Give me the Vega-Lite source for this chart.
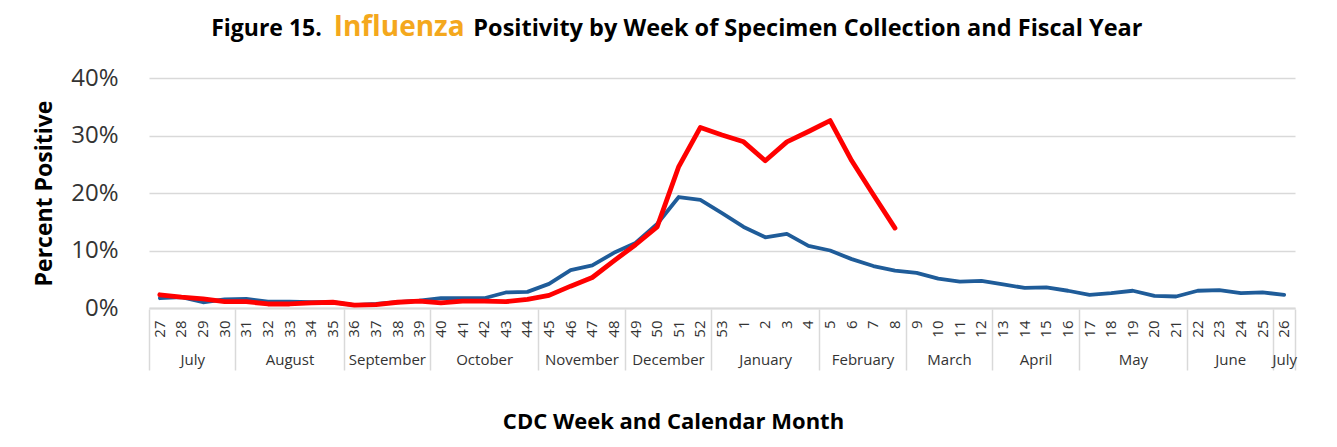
{
  "$schema": "https://vega.github.io/schema/vega-lite/v6.json",
  "background": "white",
  "autosize": {"type": "none"},
  "padding": {"left": 149, "top": 78, "right": 42, "bottom": 139},
  "config": {"font": "Open Sans", "view": {"stroke": null}},
  "datasets": {
    "flu": [
      {"week": "27", "season": "Previous year", "pct": 1.7},
      {"week": "28", "season": "Previous year", "pct": 1.9},
      {"week": "29", "season": "Previous year", "pct": 1.0},
      {"week": "30", "season": "Previous year", "pct": 1.5},
      {"week": "31", "season": "Previous year", "pct": 1.6},
      {"week": "32", "season": "Previous year", "pct": 1.1},
      {"week": "33", "season": "Previous year", "pct": 1.1},
      {"week": "34", "season": "Previous year", "pct": 1.0},
      {"week": "35", "season": "Previous year", "pct": 1.0},
      {"week": "36", "season": "Previous year", "pct": 0.5},
      {"week": "37", "season": "Previous year", "pct": 0.7},
      {"week": "38", "season": "Previous year", "pct": 1.0},
      {"week": "39", "season": "Previous year", "pct": 1.3},
      {"week": "40", "season": "Previous year", "pct": 1.7},
      {"week": "41", "season": "Previous year", "pct": 1.7},
      {"week": "42", "season": "Previous year", "pct": 1.7},
      {"week": "43", "season": "Previous year", "pct": 2.7},
      {"week": "44", "season": "Previous year", "pct": 2.8},
      {"week": "45", "season": "Previous year", "pct": 4.2},
      {"week": "46", "season": "Previous year", "pct": 6.6},
      {"week": "47", "season": "Previous year", "pct": 7.4},
      {"week": "48", "season": "Previous year", "pct": 9.6},
      {"week": "49", "season": "Previous year", "pct": 11.3},
      {"week": "50", "season": "Previous year", "pct": 14.6},
      {"week": "51", "season": "Previous year", "pct": 19.3},
      {"week": "52", "season": "Previous year", "pct": 18.8},
      {"week": "53", "season": "Previous year", "pct": 16.5},
      {"week": "1", "season": "Previous year", "pct": 14.1},
      {"week": "2", "season": "Previous year", "pct": 12.3},
      {"week": "3", "season": "Previous year", "pct": 12.9},
      {"week": "4", "season": "Previous year", "pct": 10.8},
      {"week": "5", "season": "Previous year", "pct": 10.0},
      {"week": "6", "season": "Previous year", "pct": 8.5},
      {"week": "7", "season": "Previous year", "pct": 7.3},
      {"week": "8", "season": "Previous year", "pct": 6.5},
      {"week": "9", "season": "Previous year", "pct": 6.1},
      {"week": "10", "season": "Previous year", "pct": 5.1},
      {"week": "11", "season": "Previous year", "pct": 4.6},
      {"week": "12", "season": "Previous year", "pct": 4.7},
      {"week": "13", "season": "Previous year", "pct": 4.1},
      {"week": "14", "season": "Previous year", "pct": 3.5},
      {"week": "15", "season": "Previous year", "pct": 3.6},
      {"week": "16", "season": "Previous year", "pct": 3.0},
      {"week": "17", "season": "Previous year", "pct": 2.3},
      {"week": "18", "season": "Previous year", "pct": 2.6},
      {"week": "19", "season": "Previous year", "pct": 3.0},
      {"week": "20", "season": "Previous year", "pct": 2.1},
      {"week": "21", "season": "Previous year", "pct": 2.0},
      {"week": "22", "season": "Previous year", "pct": 3.0},
      {"week": "23", "season": "Previous year", "pct": 3.1},
      {"week": "24", "season": "Previous year", "pct": 2.6},
      {"week": "25", "season": "Previous year", "pct": 2.7},
      {"week": "26", "season": "Previous year", "pct": 2.3},
      {"week": "27", "season": "This year", "pct": 2.3},
      {"week": "28", "season": "This year", "pct": 1.9},
      {"week": "29", "season": "This year", "pct": 1.6},
      {"week": "30", "season": "This year", "pct": 1.1},
      {"week": "31", "season": "This year", "pct": 1.1},
      {"week": "32", "season": "This year", "pct": 0.7},
      {"week": "33", "season": "This year", "pct": 0.7},
      {"week": "34", "season": "This year", "pct": 0.9},
      {"week": "35", "season": "This year", "pct": 1.0},
      {"week": "36", "season": "This year", "pct": 0.5},
      {"week": "37", "season": "This year", "pct": 0.6},
      {"week": "38", "season": "This year", "pct": 1.0},
      {"week": "39", "season": "This year", "pct": 1.2},
      {"week": "40", "season": "This year", "pct": 0.9},
      {"week": "41", "season": "This year", "pct": 1.2},
      {"week": "42", "season": "This year", "pct": 1.2},
      {"week": "43", "season": "This year", "pct": 1.1},
      {"week": "44", "season": "This year", "pct": 1.5},
      {"week": "45", "season": "This year", "pct": 2.2},
      {"week": "46", "season": "This year", "pct": 3.8},
      {"week": "47", "season": "This year", "pct": 5.3},
      {"week": "48", "season": "This year", "pct": 8.2},
      {"week": "49", "season": "This year", "pct": 11.0},
      {"week": "50", "season": "This year", "pct": 14.1},
      {"week": "51", "season": "This year", "pct": 24.6},
      {"week": "52", "season": "This year", "pct": 31.4},
      {"week": "53", "season": "This year", "pct": 30.1},
      {"week": "1", "season": "This year", "pct": 28.9},
      {"week": "2", "season": "This year", "pct": 25.6},
      {"week": "3", "season": "This year", "pct": 28.9},
      {"week": "4", "season": "This year", "pct": 30.7},
      {"week": "5", "season": "This year", "pct": 32.6},
      {"week": "6", "season": "This year", "pct": 25.6},
      {"week": "7", "season": "This year", "pct": 19.7},
      {"week": "8", "season": "This year", "pct": 13.9}
    ],
    "months": [
      {"month": "July", "start": 0, "end": 4},
      {"month": "August", "start": 4, "end": 9},
      {"month": "September", "start": 9, "end": 13},
      {"month": "October", "start": 13, "end": 18},
      {"month": "November", "start": 18, "end": 22},
      {"month": "December", "start": 22, "end": 26},
      {"month": "January", "start": 26, "end": 31},
      {"month": "February", "start": 31, "end": 35},
      {"month": "March", "start": 35, "end": 39},
      {"month": "April", "start": 39, "end": 43},
      {"month": "May", "start": 43, "end": 48},
      {"month": "June", "start": 48, "end": 52},
      {"month": "July", "start": 52, "end": 53}
    ]
  },
  "width": 1146,
  "height": 230,
  "resolve": {"scale": {"x": "independent"}, "axis": {"x": "independent"}},
  "layer": [
    {
      "data": {"name": "flu"},
      "mark": {"type": "line", "strokeCap": "round", "strokeJoin": "round"},
      "encoding": {
        "x": {
          "field": "week", "type": "ordinal", "bandPosition": 0.5,
          "scale": {"type": "band", "paddingInner": 0, "paddingOuter": 0,
            "domain": ["27","28","29","30","31","32","33","34","35","36","37","38","39","40","41","42","43","44","45","46","47","48","49","50","51","52","53","1","2","3","4","5","6","7","8","9","10","11","12","13","14","15","16","17","18","19","20","21","22","23","24","25","26"]},
          "axis": {"orient": "bottom", "title": null, "labelAngle": 270, "labelFontSize": 15, "labelColor": "#333333", "labelPadding": 12, "ticks": false, "domainColor": "#d9d9d9", "domainWidth": 2, "grid": false, "labelOverlap": false}
        },
        "y": {
          "field": "pct", "type": "quantitative",
          "scale": {"domain": [0, 40], "nice": false},
          "axis": {"title": "Percent Positive", "titleFontSize": 23, "titleFontWeight": "bold", "titleColor": "#000000", "titlePadding": 14, "values": [0, 10, 20, 30, 40], "labelExpr": "datum.value + '%'", "labelFontSize": 24, "labelColor": "#333333", "labelPadding": 31, "ticks": false, "domain": false, "gridColor": "#d9d9d9", "gridWidth": 1.5}
        },
        "color": {"field": "season", "type": "nominal", "scale": {"domain": ["Previous year", "This year"], "range": ["#1f5c99", "#ff0000"]}, "legend": null},
        "strokeWidth": {"field": "season", "type": "nominal", "scale": {"domain": ["Previous year", "This year"], "range": [3.8, 4.8]}, "legend": null}
      }
    },
    {
      "data": {"name": "months"},
      "mark": {"type": "rule", "opacity": 0},
      "encoding": {
        "x": {
          "field": "start", "type": "quantitative",
          "scale": {"domain": [0, 53], "nice": false, "zero": false},
          "axis": {"orient": "bottom", "title": null, "values": [0, 4, 9, 13, 18, 22, 26, 31, 35, 39, 43, 48, 52, 53], "labels": false, "ticks": true, "tickSize": 61, "tickColor": "#d9d9d9", "tickWidth": 1.5, "domain": false, "grid": false, "offset": 1}
        }
      }
    },
    {
      "data": {"name": "months"},
      "mark": {"type": "rule", "opacity": 0},
      "encoding": {
        "x": {
          "field": "end", "type": "quantitative",
          "scale": {"domain": [0, 53], "nice": false, "zero": false},
          "axis": {"orient": "bottom", "values": [2, 6.5, 11, 15.5, 20, 24, 28.5, 33, 37, 41, 45.5, 50, 52.5],
            "labelExpr": "datum.value == 2 ? 'July' : datum.value == 6.5 ? 'August' : datum.value == 11 ? 'September' : datum.value == 15.5 ? 'October' : datum.value == 20 ? 'November' : datum.value == 24 ? 'December' : datum.value == 28.5 ? 'January' : datum.value == 33 ? 'February' : datum.value == 37 ? 'March' : datum.value == 41 ? 'April' : datum.value == 45.5 ? 'May' : datum.value == 50 ? 'June' : 'July'",
            "labelFontSize": 15, "labelColor": "#333333", "labelPadding": 0, "labelFlush": false, "labelOverlap": false,
            "ticks": false, "domain": false, "grid": false, "offset": 44,
            "title": "CDC Week and Calendar Month", "titleFontSize": 22, "titleFontWeight": "bold", "titleColor": "#000000", "titlePadding": 44, "titleX": 524, "titleAlign": "center"}
        }
      }
    },
    {
      "data": {"values": [{}]},
      "mark": {"type": "text", "text": "Figure 15.", "align": "right", "baseline": "alphabetic", "fontSize": 23, "fontWeight": "bold", "color": "#000000"},
      "encoding": {
        "x": {"datum": 7.99, "type": "quantitative", "scale": {"domain": [0, 53], "nice": false, "zero": false}, "axis": null},
        "y": {"datum": 47.3, "type": "quantitative"}
      }
    },
    {
      "data": {"values": [{}]},
      "mark": {"type": "text", "text": "Influenza", "align": "center", "baseline": "alphabetic", "fontSize": 28, "fontWeight": "bold", "color": "#f4a81d"},
      "encoding": {
        "x": {"datum": 11.57, "type": "quantitative", "scale": {"domain": [0, 53], "nice": false, "zero": false}, "axis": null},
        "y": {"datum": 47.3, "type": "quantitative"}
      }
    },
    {
      "data": {"values": [{}]},
      "mark": {"type": "text", "text": "Positivity by Week of Specimen Collection and Fiscal Year", "align": "left", "baseline": "alphabetic", "fontSize": 23.5, "fontWeight": "bold", "color": "#000000"},
      "encoding": {
        "x": {"datum": 15.0, "type": "quantitative", "scale": {"domain": [0, 53], "nice": false, "zero": false}, "axis": null},
        "y": {"datum": 47.3, "type": "quantitative"}
      }
    }
  ]
}
